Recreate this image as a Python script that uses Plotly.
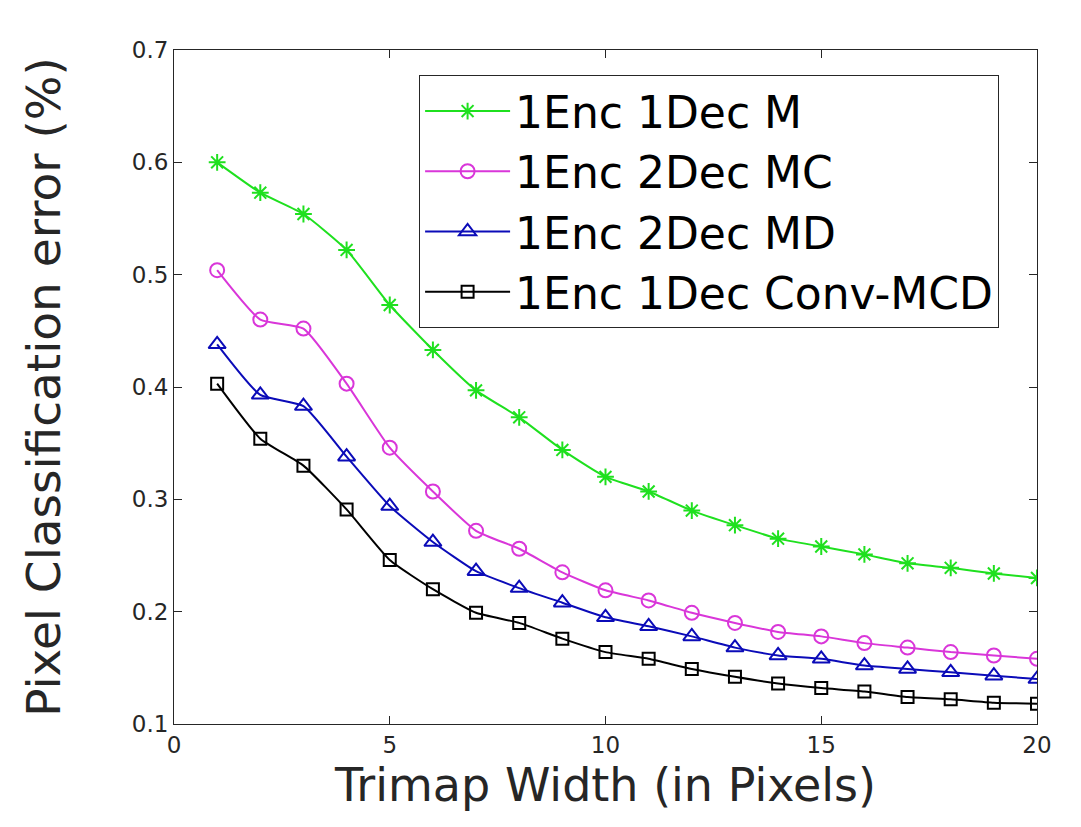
import plotly.graph_objects as go

trimap_width = list(range(1, 21))

enc1_dec1_m = [0.600, 0.573, 0.554, 0.522, 0.473, 0.433, 0.397, 0.373, 0.344, 0.320,
               0.307, 0.290, 0.277, 0.265, 0.258, 0.251, 0.243, 0.239, 0.234, 0.230]
enc1_dec2_mc = [0.504, 0.460, 0.452, 0.403, 0.346, 0.307, 0.272, 0.256, 0.235, 0.219,
                0.210, 0.199, 0.190, 0.182, 0.178, 0.172, 0.168, 0.164, 0.161, 0.158]
enc1_dec2_md = [0.438, 0.393, 0.383, 0.338, 0.294, 0.262, 0.236, 0.221, 0.208, 0.195,
                0.187, 0.178, 0.168, 0.161, 0.158, 0.152, 0.149, 0.146, 0.143, 0.140]
enc1_dec1_conv_mcd = [0.403, 0.354, 0.330, 0.291, 0.246, 0.220, 0.199, 0.190, 0.176, 0.164,
                      0.158, 0.149, 0.142, 0.136, 0.132, 0.129, 0.124, 0.122, 0.119, 0.118]

series_names = ["1Enc 1Dec M", "1Enc 2Dec MC", "1Enc 2Dec MD", "1Enc 1Dec Conv-MCD"]
series_values = [enc1_dec1_m, enc1_dec2_mc, enc1_dec2_md, enc1_dec1_conv_mcd]
colors = ["#1fe01f", "#d936d9", "#0b0bb8", "#000000"]
symbols = ["asterisk-open", "circle-open", "triangle-up-open", "square-open"]
sizes = [14, 14, 15, 12]

x_ticks = [0, 5, 10, 15, 20]
y_ticks = [0.1, 0.2, 0.3, 0.4, 0.5, 0.6, 0.7]

FONT = "DejaVu Sans"
AX = "#262626"

fig = go.Figure()
for name, vals, c, s, sz in zip(series_names, series_values, colors, symbols, sizes):
    fig.add_trace(go.Scatter(
        x=trimap_width, y=vals, name=name, mode="lines+markers",
        line=dict(color=c, width=2, shape="spline", smoothing=0.5),
        marker=dict(symbol=s, size=sz, color=c, line=dict(color=c, width=2)),
    ))

axis_common = dict(
    showline=True, linecolor=AX, linewidth=1, mirror="ticks",
    ticks="inside", ticklen=8, tickcolor=AX, tickwidth=1,
    showgrid=False, zeroline=False,
    tickfont=dict(family=FONT, size=23, color=AX),
)

fig.update_layout(
    width=1081, height=827,
    margin=dict(l=166, r=52, t=42, b=111),
    paper_bgcolor="white", plot_bgcolor="white",
    font=dict(family=FONT, color=AX),
    xaxis=dict(range=[0, 20], tickvals=x_ticks,
               title=dict(text="Trimap Width (in Pixels)", font=dict(family=FONT, size=46, color=AX), standoff=12),
               **axis_common),
    yaxis=dict(range=[0.1, 0.7], tickvals=y_ticks, tickformat=".1f",
               title=dict(text="Pixel Classification error (%)", font=dict(family=FONT, size=47, color=AX), standoff=56),
               **axis_common),
    legend=dict(x=0.284, y=0.963, xanchor="left", yanchor="top",
                bgcolor="white", bordercolor=AX, borderwidth=1,
                font=dict(family=FONT, size=44, color="#000000"),
                itemwidth=85, tracegroupgap=0),
    showlegend=True,
)

fig.write_html("out.html")
